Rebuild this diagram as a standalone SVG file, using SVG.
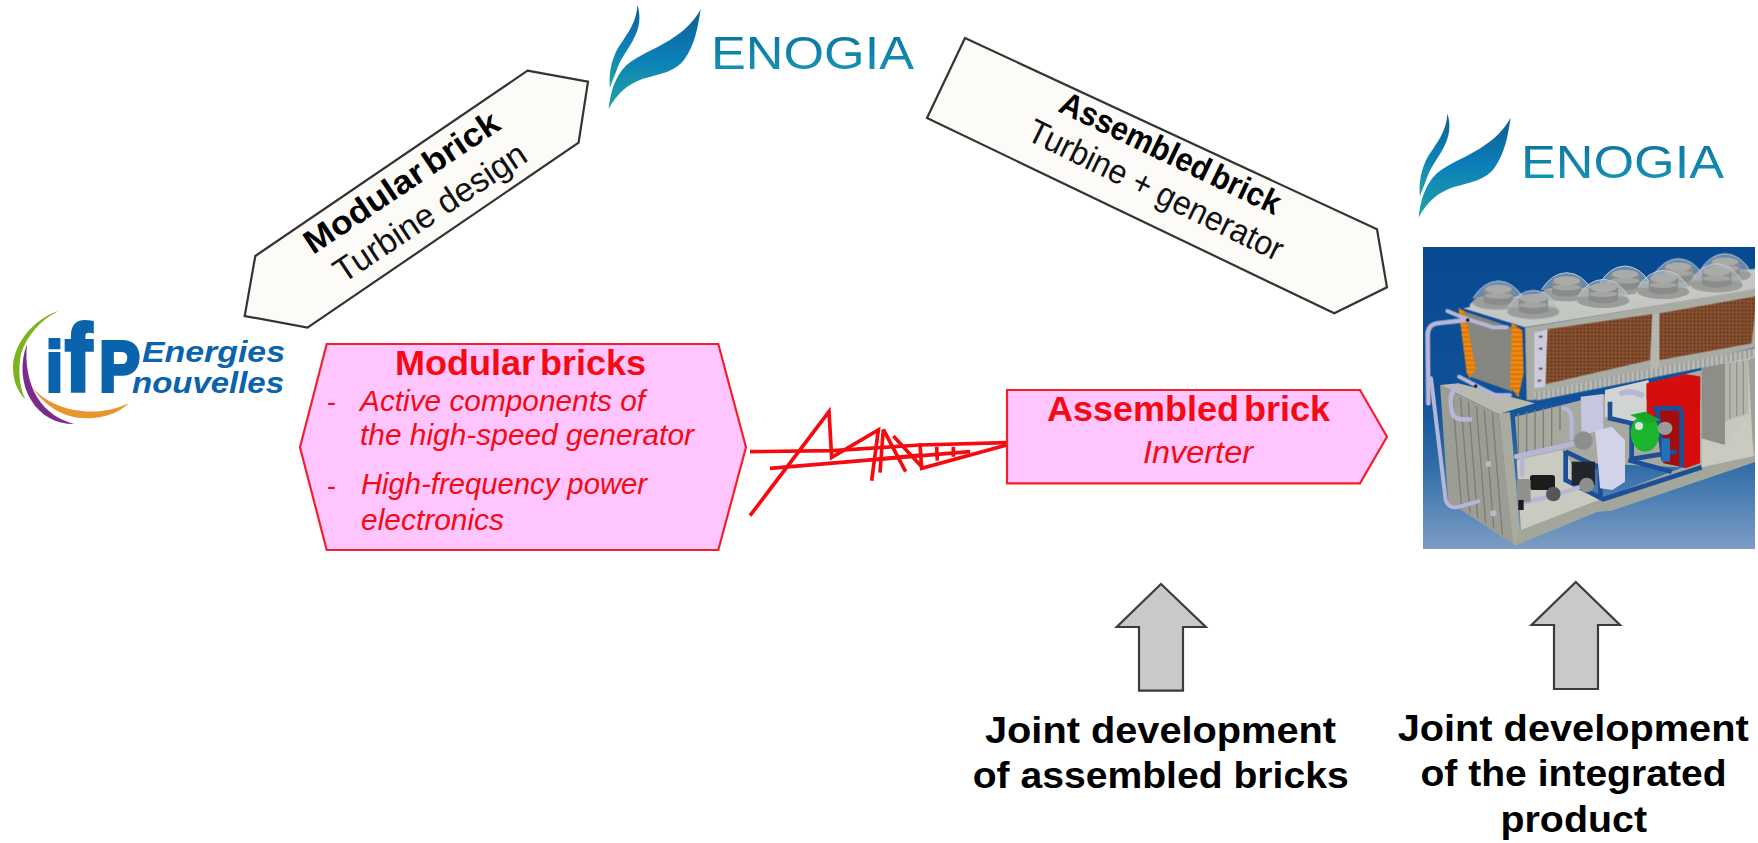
<svg xmlns="http://www.w3.org/2000/svg" xmlns:xlink="http://www.w3.org/1999/xlink" width="1758" height="843" viewBox="0 0 1758 843">
<style>
text{font-family:"Liberation Sans",Arial,sans-serif}
.brick{fill:#fcfbf8;stroke:#333;stroke-width:2.2;stroke-linejoin:miter}
.pink{fill:#ffc5ff;stroke:#f2202a;stroke-width:2.2}
.up{fill:#c9c9c9;stroke:#3c3c3c;stroke-width:2.2}
.bk{fill:#000;font-weight:700;font-size:33px;word-spacing:-5px}
.rg{fill:#111;font-size:34px}
.big{fill:#000;font-weight:700;font-size:37px}
.rb{fill:#f50a14;font-weight:700;font-size:35px;word-spacing:-5px}
.ri{fill:#f50a14;font-style:italic;font-size:29px}
.rd{fill:#f50a14;font-size:27px}
.scr{fill:none;stroke:#f50a10;stroke-width:11;stroke-linejoin:miter}
.enog{font-size:46px;fill:url(#entext)}
.ifpt{fill:#0a63ad;font-weight:700;font-style:italic;font-size:30px}
.pipe{fill:none;stroke:#b6b6d6;stroke-linecap:round;stroke-linejoin:round}
.frame{fill:none;stroke:#1c4f98;stroke-width:14}
.rib{fill:none;stroke:#7d7e76;stroke-width:4}
</style>
<defs>
<linearGradient id="sky" x1="0" y1="0" x2="0" y2="1"><stop offset="0" stop-color="#084a92"/><stop offset=".5" stop-color="#0f5199"/><stop offset=".72" stop-color="#2f6ca8"/><stop offset="1" stop-color="#7c9dc4"/></linearGradient>
<linearGradient id="swoosh" x1="0" y1="0" x2="0" y2="1"><stop offset="0" stop-color="#0b5f8f"/><stop offset=".45" stop-color="#0a7cb8"/><stop offset="1" stop-color="#22a5a5"/></linearGradient>
<linearGradient id="entext" x1="0" y1="0" x2="0" y2="1"><stop offset="0" stop-color="#0c6f9f"/><stop offset="1" stop-color="#1699b8"/></linearGradient>
<pattern id="coil" patternUnits="userSpaceOnUse" width="11" height="11"><rect width="11" height="11" fill="#8a5230"/><rect x="0" y="0" width="5" height="5" fill="#4e2c1a"/></pattern>
<pattern id="orange" patternUnits="userSpaceOnUse" width="14" height="14"><rect width="14" height="14" fill="#f28a12"/><rect y="9" width="14" height="4" fill="#c96a08"/></pattern>
<pattern id="shelf" patternUnits="userSpaceOnUse" width="14" height="14"><rect width="14" height="14" fill="#b9bbb6"/><rect width="4" height="14" fill="#8d8f8a"/></pattern>
<clipPath id="picclip"><rect x="1423" y="247" width="332" height="302"/></clipPath>
<filter id="soft" x="-5%" y="-5%" width="110%" height="110%"><feGaussianBlur stdDeviation="0.7"/></filter>
<g id="fan">
<ellipse cx="0" cy="30" rx="86" ry="26" fill="#c6c8c5"/>
<ellipse cx="0" cy="20" rx="78" ry="22" fill="#9b9d9a"/>
<path d="M-76 8Q-46-42 0-44Q46-42 76 8" fill="#b4bcc2" fill-opacity=".55" stroke="#c4ccd2" stroke-width="3"/>
<path d="M-44 20V-18Q0-34 44-18V20Q0 36-44 20Z" fill="#8a8c89"/>
<ellipse cx="0" cy="-20" rx="40" ry="13" fill="#a9aba8"/>
<ellipse cx="0" cy="0" rx="42" ry="9" fill="#b4b6b3" fill-opacity=".6"/>
</g>
<g id="enogia-mark" filter="url(#soft)">
<path d="M322 15C334 50 328 85 312 115C298 145 272 175 262 205C254 228 246 245 240 264C236 225 242 190 258 155C282 112 320 75 322 15Z" fill="url(#swoosh)" transform="translate(530 0) scale(.3333)"/>
<path d="M512 28C503 85 495 135 462 180C432 218 385 222 335 238C292 254 262 280 236 327C240 285 252 232 290 195C325 165 375 148 420 120C462 94 492 65 512 28Z" fill="url(#swoosh)" transform="translate(530 0) scale(.3333)"/>
</g>
</defs>
<rect width="1758" height="843" fill="#fff"/>

<g id="connectors">
<g transform="translate(740 400) scale(.33333)">
<path class="scr" d="M30 155L280 152L540 135L800 128"/>
<path class="scr" d="M90 205L410 178L690 155"/>
<path class="scr" d="M30 347L267 35L275 172L415 90L395 242"/>
<path class="scr" d="M430 88L420 218M430 88L497 215M460 108L545 200M540 130L545 205L800 135"/>
<path class="scr" d="M590 140L592 182M640 140L640 170M410 178L540 165"/>
</g>
</g>

<g id="node-turbine-design">
<polygon class="brick" points="527.5,70.7 588,81.7 578.6,142.7 307.5,327.7 244.7,316 255.3,256"/>
<text class="bk" transform="translate(313 255) rotate(-33.8)" textLength="228" lengthAdjust="spacingAndGlyphs">Modular brick</text>
<text class="rg" transform="translate(343 284) rotate(-33.6)" textLength="224" lengthAdjust="spacingAndGlyphs">Turbine design</text>
</g>

<g id="node-turbine-generator">
<polygon class="brick" points="965,38 1377,229.3 1387,287.3 1334.3,313.3 927,118"/>
<text class="bk" transform="translate(1057 111) rotate(25.6)" textLength="241" lengthAdjust="spacingAndGlyphs">Assembled brick</text>
<text class="rg" transform="translate(1025 139) rotate(26)" textLength="280" lengthAdjust="spacingAndGlyphs">Turbine + generator</text>
</g>

<g id="node-modular-bricks">
<polygon class="pink" points="326.7,344 718.3,344 746,447.3 718.3,550 326.7,550 300,447.3"/>
<text class="rb" x="395" y="375" textLength="251" lengthAdjust="spacingAndGlyphs">Modular bricks</text>
<text class="rd" x="327" y="411">-</text>
<text class="ri" x="360" y="410.7" textLength="285" lengthAdjust="spacingAndGlyphs">Active components of</text>
<text class="ri" x="360" y="445" textLength="334" lengthAdjust="spacingAndGlyphs">the high-speed generator</text>
<text class="rd" x="327" y="495">-</text>
<text class="ri" x="361" y="494" textLength="286" lengthAdjust="spacingAndGlyphs">High-frequency power</text>
<text class="ri" x="361" y="530" textLength="143" lengthAdjust="spacingAndGlyphs">electronics</text>
</g>

<g id="node-inverter">
<polygon class="pink" points="1007,390 1360,390 1387,436.7 1360,483.3 1007,483.3"/>
<text class="rb" x="1047" y="421" textLength="283" lengthAdjust="spacingAndGlyphs">Assembled brick</text>
<text class="ri" x="1143" y="463" textLength="110" lengthAdjust="spacingAndGlyphs" style="font-size:31px">Inverter</text>
</g>

<g id="logo-ifp">
<g filter="url(#soft)">
<path d="M58 311C32 320 13 345 13 368C13 381 18 392 25 399C19 385 18 370 21 354C27 335 41 320 58 311Z" fill="#7ab51d"/>
<path d="M27 344C20 362 21 384 31 400C41 416 56 424 74 424C60 420 46 412 37 397C28 382 25 362 27 344Z" fill="#7d2a8c"/>
<path d="M32 387C44 405 62 417 82 418C102 419 118 414 129 403C114 410 98 413 82 411C62 409 44 401 32 387Z" fill="#e8952f"/>
</g>
<text fill="#0a63ad" stroke="#0a63ad" stroke-width="4" font-weight="700" transform="translate(46 391) scale(.86 1)"><tspan x="0" font-size="71">i</tspan><tspan x="22" font-size="94">f</tspan><tspan x="62" font-size="71">P</tspan></text>
<text class="ifpt" x="142" y="361.7" textLength="143" lengthAdjust="spacingAndGlyphs">Energies</text>
<text class="ifpt" x="132" y="392.7" textLength="152" lengthAdjust="spacingAndGlyphs">nouvelles</text>
</g>

<g id="logo-enogia-top">
<use href="#enogia-mark"/>
<text class="enog" x="711" y="69" textLength="203" lengthAdjust="spacingAndGlyphs">ENOGIA</text>
</g>

<g id="logo-enogia-right">
<use href="#enogia-mark" transform="translate(810 108.5)"/>
<text class="enog" x="1521" y="177.5" textLength="203" lengthAdjust="spacingAndGlyphs">ENOGIA</text>
</g>

<g id="product-image" clip-path="url(#picclip)">
<rect x="1423" y="247" width="332" height="302" fill="url(#sky)"/>
<g filter="url(#soft)">
<!-- lower part, crop coordinates -->
<g transform="translate(1415 380) scale(.33333)">
<polygon points="300,110 860,-30 1030,-75 1030,225 860,265 310,240" fill="#a7a89e"/>
<polygon points="860,-40 1030,-75 1030,225 860,265" fill="#c6c8bd"/>
<polygon points="860,-40 930,-50 930,195 860,175" fill="#8d8e88"/>
<polygon points="930,-50 1000,-60 1000,100 930,125" fill="#b4b6ae"/>
<path d="M945 -50V115M965 -55V108M985 -58V104" stroke="#92948c" stroke-width="4"/>
<polygon points="1000,-60 1030,-70 1030,230 1015,230" fill="#9fa197"/>
<polygon points="75,15 130,10 360,70 250,102" fill="#b8baaf"/>
<path class="rib" d="M310 100V230M335 95V225M360 90V220M385 85V215M410 80V210M435 75V150"/>
<polygon points="570,30 700,0 720,90 640,130 570,110" fill="#d2d4d4"/>
<polygon points="305,240 440,210 560,370 318,455" fill="#c9cbc0"/>
<polygon points="75,15 250,102 298,495 130,385 100,370" fill="#9c9d94"/>
<path class="rib" d="M112 40L140 385M136 52L165 400M160 65L188 415M184 78L212 430M208 90L236 445M232 98L262 465"/>
<polygon points="250,100 285,97 318,490 296,497" fill="#a9aaa0"/>
<polygon points="312,452 860,240 1020,222 1023,245 590,392 548,395 300,497" fill="#a3a69a"/>
<polygon points="860,180 930,195 1000,100 1018,228 860,262" fill="#c9cbc0"/>
<!-- pipes on left face -->
<path class="pipe" stroke-width="14" d="M125 22Q98 40 112 100Q120 122 165 118"/>
<path class="pipe" stroke-width="12" d="M48 -5L92 360Q100 385 125 382L190 364"/>
<circle cx="220" cy="252" r="9" fill="#b8b8d0"/><circle cx="235" cy="400" r="9" fill="#b8b8d0"/>
<!-- equipment -->
<polygon points="497,50 565,42 565,150 500,165" fill="#c6c6de"/>
<polygon points="695,10 810,-17 855,-10 855,250 812,265 760,250 695,100" fill="#d60d0d"/>
<polygon points="715,80 800,85 805,262 745,250" fill="#a30c10"/>
<path class="frame" d="M585 65V115L650 130V240M645 238L785 215M725 80L745 240M800 90V262M715 85L800 85"/>
<path class="frame" d="M452 212V300L565 358L860 262M452 215L556 265V352M640 240L770 275"/>
<rect x="470" y="245" width="70" height="70" fill="#24262c"/>
<ellipse cx="690" cy="160" rx="43" ry="55" fill="#1fb52f"/>
<path d="M645 105L690 95L737 120L700 130Z" fill="#18a828"/>
<circle cx="672" cy="138" r="12" fill="#d8e8d8"/>
<rect x="740" y="175" width="25" height="70" fill="#2070b8"/>
<ellipse cx="750" cy="145" rx="22" ry="20" fill="#9a9c9c"/>
<polygon points="540,152 590,140 630,180 630,305 592,330 555,325 545,200" fill="#d2d2e8"/>
<path class="pipe" stroke-width="16" d="M305 230L470 192"/>
<path class="pipe" stroke-width="13" d="M322 240V285"/>
<path class="pipe" stroke-width="13" d="M445 85Q470 85 470 130V175"/>
<path class="pipe" stroke-width="13" d="M325 368L400 350L505 318"/>
<path class="pipe" stroke-width="16" d="M620 40Q650 30 680 45"/>
<circle cx="505" cy="182" r="28" fill="#8c8f8c"/>
<circle cx="515" cy="315" r="22" fill="#8c8f8c"/>
<rect x="345" y="285" width="75" height="45" rx="8" fill="#1b1b1d"/>
<circle cx="415" cy="342" r="22" fill="#55585a"/>
<rect x="305" y="297" width="42" height="70" rx="8" fill="#8f918e"/>
<rect x="310" y="360" width="16" height="30" fill="#1b1b1d"/>
</g>
<!-- upper part, crop coordinates -->
<g transform="translate(1415 240) scale(.33333)">
<polygon points="145,205 300,170 1030,85 1030,150 330,262" fill="#c4c6c2"/>
<use href="#fan" transform="translate(930 85)"/>
<use href="#fan" transform="translate(790 100)"/>
<use href="#fan" transform="translate(630 122)"/>
<use href="#fan" transform="translate(455 142)"/>
<use href="#fan" transform="translate(250 167)"/>
<use href="#fan" transform="translate(905 115)"/>
<use href="#fan" transform="translate(745 135)"/>
<use href="#fan" transform="translate(565 162)"/>
<use href="#fan" transform="translate(355 195)"/>
<polygon points="330,262 1030,145 1030,320 355,480 335,480" fill="#a9aba5"/>
<polygon points="395,268 712,222 705,360 392,432" fill="url(#coil)"/>
<polygon points="733,220 1025,168 1010,310 733,360" fill="url(#coil)"/>
<polygon points="358,278 398,268 390,440 358,445" fill="#cbcbdc"/>
<path d="M372 290h10M372 326h10M372 386h10M368 422h10" stroke="#444" stroke-width="5"/>
<polygon points="712,222 733,220 733,395 705,395" fill="#b4b6b0"/>
<polygon points="355,458 1030,322 1030,350 365,482" fill="url(#shelf)"/>
<polygon points="695,432 810,403 855,410 855,480 695,480" fill="#d60d0d"/>
<polygon points="150,215 292,262 292,455 170,412" fill="#85867f"/>
<polygon points="130,203 150,215 182,385 165,415 155,400" fill="url(#orange)"/>
<polygon points="290,248 322,272 326,400 310,472 285,440" fill="url(#orange)"/>
<path class="pipe" stroke-width="14" d="M40 490L38 285Q38 255 65 250L155 240"/>
<path class="pipe" stroke-width="12" d="M97 213L150 235L235 262L275 262"/>
<path class="pipe" stroke-width="12" d="M132 410L175 432L240 465L285 465"/>
<circle cx="158" cy="240" r="5" fill="#111"/><circle cx="182" cy="438" r="5" fill="#111"/>
</g>
</g>
</g>

<g id="arrow-assembled">
<polygon class="up" points="1161,584 1205.8,627 1183,627 1183,690.7 1139,690.7 1139,627 1116.7,627"/>
<text class="big" x="985" y="742.7" textLength="351" lengthAdjust="spacingAndGlyphs">Joint development</text>
<text class="big" x="972.7" y="788" textLength="376" lengthAdjust="spacingAndGlyphs">of assembled bricks</text>
</g>

<g id="arrow-integrated">
<polygon class="up" points="1575.8,582 1620,625 1598,625 1598,689 1554,689 1554,625 1531.5,625"/>
<text class="big" x="1397.7" y="740.7" textLength="351" lengthAdjust="spacingAndGlyphs">Joint development</text>
<text class="big" x="1420.5" y="786" textLength="306" lengthAdjust="spacingAndGlyphs">of the integrated</text>
<text class="big" x="1500.5" y="831.7" textLength="146.5" lengthAdjust="spacingAndGlyphs">product</text>
</g>
</svg>
